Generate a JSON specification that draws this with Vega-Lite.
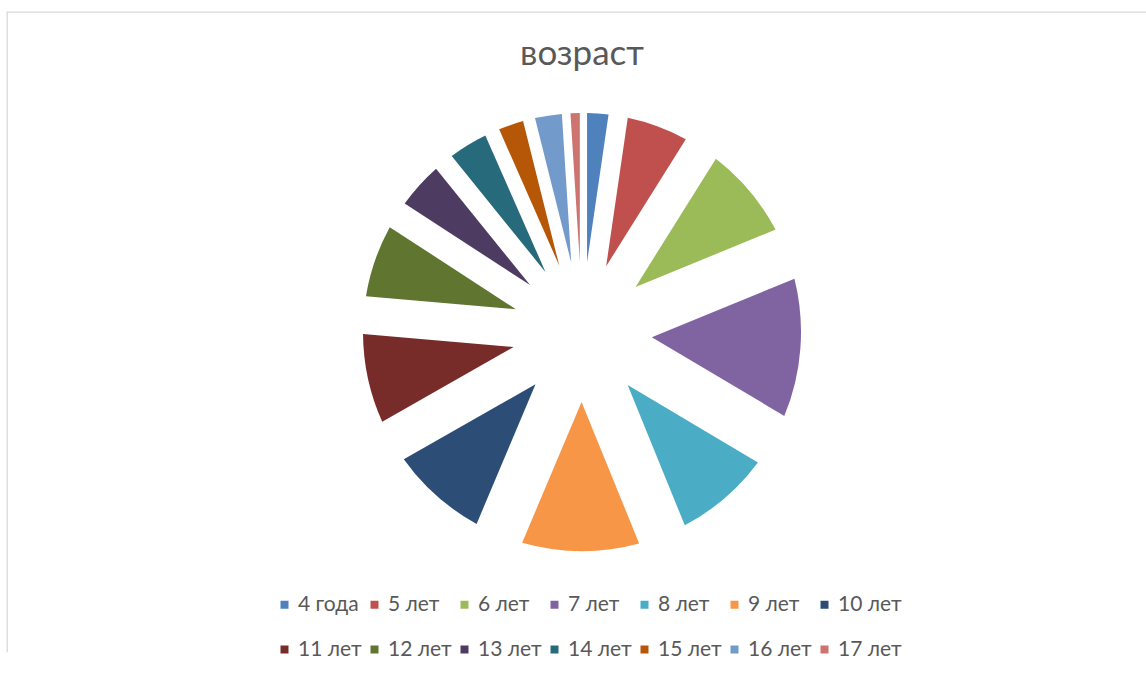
{
  "$schema": "https://vega.github.io/schema/vega-lite/v6.json",
  "width": 1150,
  "height": 640,
  "autosize": "none",
  "padding": {"left": 7, "top": 12, "right": 0, "bottom": 40},
  "background": "white",
  "view": {"stroke": "#d9d9d9", "strokeWidth": 1.3, "strokeDash": [1150, 1790, 642]},
  "title": {
    "text": "возраст",
    "font": "Lato",
    "fontSize": 35,
    "fontWeight": "normal",
    "color": "#595959",
    "anchor": "middle",
    "orient": "top",
    "offset": 0,
    "baseline": "alphabetic",
    "dy": 88
  },
  "data": {
    "values": [
      {"i": 1, "age": "4 года", "v": 2.3},
      {"i": 2, "age": "5 лет", "v": 6.6},
      {"i": 3, "age": "6 лет", "v": 9.9},
      {"i": 4, "age": "7 лет", "v": 14.7},
      {"i": 5, "age": "8 лет", "v": 10.3},
      {"i": 6, "age": "9 лет", "v": 12.5},
      {"i": 7, "age": "10 лет", "v": 10.4},
      {"i": 8, "age": "11 лет", "v": 9.6},
      {"i": 9, "age": "12 лет", "v": 7.8},
      {"i": 10, "age": "13 лет", "v": 5.0},
      {"i": 11, "age": "14 лет", "v": 4.2},
      {"i": 12, "age": "15 лет", "v": 2.7},
      {"i": 13, "age": "16 лет", "v": 2.9},
      {"i": 14, "age": "17 лет", "v": 1.0}
    ]
  },
  "mark": {
    "type": "arc",
    "innerRadius": 70,
    "outerRadius": 219,
    "padAngle": {"expr": "2*asin(70*sin((scale('theta', datum.v_end) - scale('theta', datum.v_start))/2)/sqrt(70*70+219*219))"}
  },
  "encoding": {
    "theta": {"field": "v", "type": "quantitative", "stack": true},
    "order": {"field": "i", "type": "quantitative"},
    "color": {
      "field": "age",
      "type": "nominal",
      "scale": {
        "domain": ["4 года", "5 лет", "6 лет", "7 лет", "8 лет", "9 лет", "10 лет", "11 лет", "12 лет", "13 лет", "14 лет", "15 лет", "16 лет", "17 лет"],
        "range": ["#4F81BD", "#C0504D", "#9BBB59", "#8064A2", "#4BACC6", "#F79646", "#2C4D75", "#772C2A", "#5F7530", "#4D3B62", "#276A7C", "#B65708", "#729ACA", "#CD7370"]
      },
      "legend": {
        "title": null,
        "orient": "none",
        "legendX": 267,
        "legendY": 582,
        "columns": 7,
        "direction": "horizontal",
        "symbolType": "square",
        "symbolSize": 64,
        "symbolStrokeWidth": 0,
        "labelFont": "Lato",
        "labelFontSize": 21,
        "labelColor": "#595959",
        "labelOffset": 3,
        "columnPadding": 2,
        "rowPadding": 23,
        "gridAlign": "all",
        "padding": 0
      }
    }
  },
  "config": {
    "style": {"view": {"stroke": "#d9d9d9", "strokeWidth": 1.3, "strokeDash": [1150, 1790, 642]}}
  }
}
